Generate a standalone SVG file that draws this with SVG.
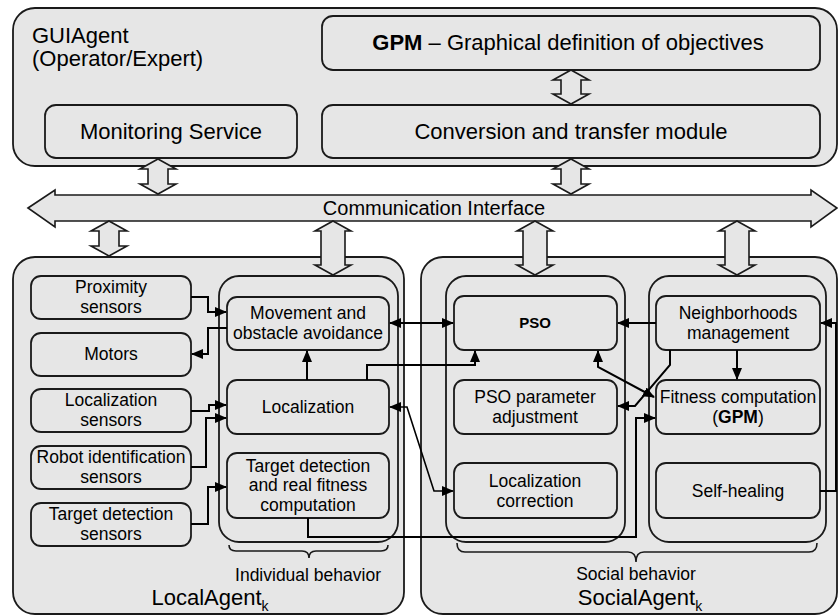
<svg xmlns="http://www.w3.org/2000/svg" width="838" height="616" viewBox="0 0 838 616">
<defs>
<style>
.box{fill:#e6e6e6;stroke:#1a1a1a;stroke-width:1.8}
.blk{fill:#e6e6e6;stroke:#1a1a1a;stroke-width:1.6;stroke-linejoin:miter}
.t{font-family:"Liberation Sans",Arial,sans-serif;fill:#000;text-anchor:middle}
.big{font-size:22px}
.mid{font-size:17.5px}
.cl{fill:none;stroke:#000;stroke-width:2}
.br{fill:none;stroke:#1a1a1a;stroke-width:1.6}
</style>
<marker id="ah" viewBox="0 0 12 10" refX="11" refY="5" markerWidth="12" markerHeight="10" markerUnits="userSpaceOnUse" orient="auto-start-reverse">
<path d="M0,0 L12,5 L0,10 Z" fill="#000"/>
</marker>
</defs>

<g id="GUIAgent">
<rect class="box" x="13" y="8" width="824" height="158" rx="22"/>
<text class="t big" x="32" y="43" style="text-anchor:start">GUIAgent</text>
<text class="t big" x="32" y="66" style="text-anchor:start">(Operator/Expert)</text>
</g>
<g id="GPM">
<rect class="box" x="322" y="16" width="498" height="54" rx="11"/>
<text class="t big" x="568" y="50"><tspan font-weight="bold">GPM</tspan> – Graphical definition of objectives</text>
</g>
<g id="MonitoringService">
<rect class="box" x="45" y="105" width="252" height="53" rx="11"/>
<text class="t big" x="171" y="139">Monitoring Service</text>
</g>
<g id="Conversion">
<rect class="box" x="322" y="105" width="498" height="53" rx="11"/>
<text class="t big" x="571" y="139">Conversion and transfer module</text>
</g>

<g id="CommunicationInterface">
<polygon class="blk" points="28,208 55,190 55,195 811,195 811,190 837,208 811,227 811,221 55,221 55,227"/>
<text class="t" x="434" y="215" style="font-size:20px">Communication Interface</text>
</g>

<g id="LocalAgent">
<rect class="box" x="13" y="257" width="391" height="357" rx="22"/>
<text class="t big" x="210" y="605">LocalAgent<tspan font-size="14" dy="6">k</tspan></text>
</g>
<g id="SocialAgent">
<rect class="box" x="421" y="257" width="416" height="357" rx="22"/>
<text class="t big" x="640" y="605">SocialAgent<tspan font-size="14" dy="6">k</tspan></text>
</g>

<g id="IndividualBehavior">
<rect class="box" x="219" y="276" width="179" height="266" rx="20"/>
<path class="br" d="M229,545 Q229,551 236,551 H302 Q309,551 309,558 Q309,551 316,551 H381 Q388,551 388,545"/>
<text class="t mid" x="308" y="581">Individual behavior</text>
</g>
<g id="PSOGroup">
<rect class="box" x="446" y="276" width="179" height="266" rx="20"/>
</g>
<g id="SocialGroup">
<rect class="box" x="649" y="276" width="177" height="266" rx="20"/>
</g>
<g id="SocialBehavior">
<path class="br" d="M457,543 Q457,552 465,552 H628 Q636,552 636,562 Q636,552 644,552 H809 Q817,552 817,543"/>
<text class="t mid" x="636" y="580">Social behavior</text>
</g>

<g id="ProximitySensors">
<rect class="box" x="31" y="276" width="160" height="43" rx="10"/>
<text class="t mid" x="111" y="293">Proximity</text>
<text class="t mid" x="111" y="313">sensors</text>
</g>
<g id="Motors">
<rect class="box" x="31" y="333" width="160" height="43" rx="10"/>
<text class="t mid" x="111" y="360">Motors</text>
</g>
<g id="LocalizationSensors">
<rect class="box" x="31" y="389" width="160" height="43" rx="10"/>
<text class="t mid" x="111" y="406">Localization</text>
<text class="t mid" x="111" y="426">sensors</text>
</g>
<g id="RobotIdentificationSensors">
<rect class="box" x="31" y="446" width="160" height="43" rx="10"/>
<text class="t mid" x="111" y="463">Robot identification</text>
<text class="t mid" x="111" y="483">sensors</text>
</g>
<g id="TargetDetectionSensors">
<rect class="box" x="31" y="503" width="160" height="43" rx="10"/>
<text class="t mid" x="111" y="520">Target detection</text>
<text class="t mid" x="111" y="540">sensors</text>
</g>

<g id="Movement">
<rect class="box" x="227" y="297" width="162" height="53" rx="10"/>
<text class="t mid" x="308" y="319">Movement and</text>
<text class="t mid" x="308" y="339">obstacle avoidance</text>
</g>
<g id="Localization">
<rect class="box" x="227" y="380" width="162" height="54" rx="10"/>
<text class="t mid" x="308" y="413">Localization</text>
</g>
<g id="TargetDetection">
<rect class="box" x="227" y="453" width="162" height="65" rx="10"/>
<text class="t mid" x="308" y="472">Target detection</text>
<text class="t mid" x="308" y="491">and real fitness</text>
<text class="t mid" x="308" y="511">computation</text>
</g>

<g id="PSO">
<rect class="box" x="454" y="296" width="163" height="54" rx="10"/>
<text class="t" x="535" y="328" style="font-size:15px;font-weight:bold">PSO</text>
</g>
<g id="PSOParameterAdjustment">
<rect class="box" x="454" y="380" width="163" height="54" rx="10"/>
<text class="t mid" x="535" y="403">PSO parameter</text>
<text class="t mid" x="535" y="423">adjustment</text>
</g>
<g id="LocalizationCorrection">
<rect class="box" x="454" y="463" width="163" height="55" rx="10"/>
<text class="t mid" x="535" y="487">Localization</text>
<text class="t mid" x="535" y="507">correction</text>
</g>

<g id="Neighborhoods">
<rect class="box" x="656" y="296" width="164" height="54" rx="10"/>
<text class="t mid" x="738" y="319">Neighborhoods</text>
<text class="t mid" x="738" y="339">management</text>
</g>
<g id="FitnessComputation">
<rect class="box" x="656" y="380" width="164" height="54" rx="10"/>
<text class="t mid" x="738" y="403">Fitness computation</text>
<text class="t mid" x="738" y="423">(<tspan font-weight="bold">GPM</tspan>)</text>
</g>
<g id="SelfHealing">
<rect class="box" x="656" y="463" width="164" height="55" rx="10"/>
<text class="t mid" x="738" y="497">Self-healing</text>
</g>

<g id="connectors">
<polygon class="blk" points="571,70 589,80 581,80 581,94 589,94 571,104 553,94 561,94 561,80 553,80"/>
<polygon class="blk" points="158,159 176,169 168,169 168,184 176,184 158,194 140,184 148,184 148,169 140,169"/>
<polygon class="blk" points="571,159 589,169 581,169 581,184 589,184 571,194 553,184 561,184 561,169 553,169"/>
<polygon class="blk" points="109,221 127,231 119,231 119,246 127,246 109,256 91,246 99,246 99,231 91,231"/>
<polygon class="blk" points="333,221 351,231 345,231 345,265 351,265 333,275 315,265 321,265 321,231 315,231"/>
<polygon class="blk" points="535,221 553,231 547,231 547,265 553,265 535,275 517,265 523,265 523,231 517,231"/>
<polygon class="blk" points="737,221 755,231 749,231 749,265 755,265 737,275 719,265 725,265 725,231 719,231"/>

<path class="cl" d="M191,297 H208 V312 H226" marker-end="url(#ah)"/>
<path class="cl" d="M227,328 H208 V354 H192" marker-end="url(#ah)"/>
<path class="cl" d="M191,411 H209 V405 H226" marker-end="url(#ah)"/>
<path class="cl" d="M191,467 H206 V418 H226" marker-end="url(#ah)"/>
<path class="cl" d="M191,524 H208 V487 H226" marker-end="url(#ah)"/>
<path class="cl" d="M307,380 V351" marker-end="url(#ah)"/>
<path class="cl" d="M390,323 H453" marker-start="url(#ah)" marker-end="url(#ah)"/>
<path class="cl" d="M367,380 V365 H475 V351" marker-end="url(#ah)"/>
<path class="cl" d="M390,407 H407 L434,491 H453" style="stroke-width:1.6" marker-start="url(#ah)" marker-end="url(#ah)"/>
<path class="cl" d="M308,518 V537 H636 V418 H655" marker-end="url(#ah)"/>
<path class="cl" d="M656,323 H618" marker-end="url(#ah)"/>
<path class="cl" d="M737,350 V379" marker-end="url(#ah)"/>
<path class="cl" d="M670,350 V365 L635,406 H618" marker-end="url(#ah)"/>
<path class="cl" d="M598,351 V367 L654,397" marker-start="url(#ah)" marker-end="url(#ah)"/>
<path class="cl" d="M820,491 H836 V323 H821" marker-end="url(#ah)"/>
</g>
</svg>
